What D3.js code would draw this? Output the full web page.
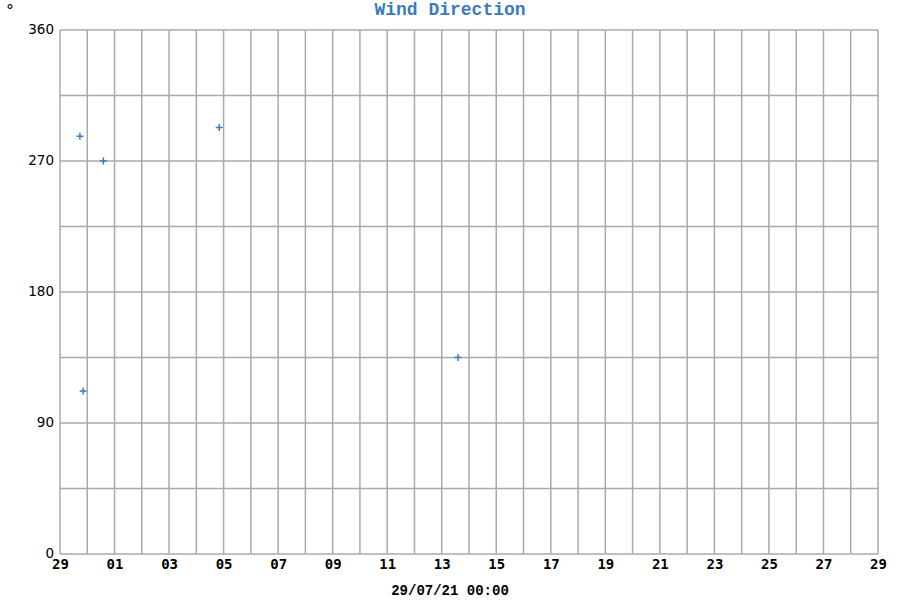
<!DOCTYPE html>
<html>
<head>
<meta charset="utf-8">
<script src="https://cdn.jsdelivr.net/npm/d3@7"></script>
<style>
  body { margin: 0; background: #fff; }
  svg { display: block; }
</style>
</head>
<body>
<div id="chart"></div>
<script>
// days since start of the axis, and wind direction in degrees
var dayOffsets = [0.73, 0.85, 1.59, 5.84, 14.6];
var directions = [287, 112, 270, 293, 135];
var xTickLabels = ["29", "01", "03", "05", "07", "09", "11", "13", "15", "17", "19", "21", "23", "25", "27", "29"];
var yTickLabels = [0, 90, 180, 270, 360];

var m = {top: 30, right: 22, bottom: 46, left: 60},
    w = 900 - m.left - m.right,
    h = 600 - m.top - m.bottom;

var svg = d3.select("#chart").append("svg")
    .attr("width", 900)
    .attr("height", 600);

var g = svg.append("g")
    .attr("transform", "translate(" + m.left + "," + m.top + ")");

var x = d3.scaleLinear().domain([0, 30]).range([0, w]);
var y = d3.scaleLinear().domain([0, 360]).range([h, 0]);

// grid
g.append("g").selectAll("line")
    .data(d3.range(0, 31))
    .enter().append("line")
    .attr("x1", function(d) { return x(d); })
    .attr("x2", function(d) { return x(d); })
    .attr("y1", 0).attr("y2", h)
    .attr("stroke", "#aaa").attr("stroke-width", 1.5);

g.append("g").selectAll("line")
    .data(d3.range(0, 361, 45))
    .enter().append("line")
    .attr("x1", 0).attr("x2", w)
    .attr("y1", function(d) { return y(d); })
    .attr("y2", function(d) { return y(d); })
    .attr("stroke", "#aaa").attr("stroke-width", 1.5);

// y axis labels
var yAxis = d3.axisLeft(y).tickValues(yTickLabels).tickSize(0).tickPadding(6);
g.append("g").call(yAxis)
    .call(function(a) { a.select(".domain").remove(); })
    .selectAll("text")
    .attr("dy", "0.25em")
    .style("font-family", "DejaVu Sans")
    .style("font-size", "13.5px")
    .style("fill", "#000");

// x axis labels
var xAxis = d3.axisBottom(x)
    .tickValues(d3.range(0, 31, 2))
    .tickFormat(function(d, i) { return xTickLabels[i]; })
    .tickSize(0).tickPadding(5);
g.append("g")
    .attr("transform", "translate(0," + h + ")")
    .call(xAxis)
    .call(function(a) { a.select(".domain").remove(); })
    .selectAll("text")
    .style("font-family", "DejaVu Sans Mono")
    .style("font-weight", "bold")
    .style("font-size", "14px")
    .style("fill", "#000");

// points
var pts = dayOffsets.map(function(d, i) { return {t: d, v: directions[i]}; });
g.selectAll(".pt")
    .data(pts)
    .enter().append("path")
    .attr("class", "pt")
    .attr("d", function(d) {
        var px = x(d.t), py = y(d.v);
        return "M" + (px - 3.5) + "," + py + "H" + (px + 3.5) +
               "M" + px + "," + (py - 3.5) + "V" + (py + 3.5);
    })
    .attr("stroke", "#3b7bbf")
    .attr("stroke-width", 1.5)
    .attr("fill", "none");

// title
svg.append("text")
    .attr("x", 450).attr("y", 15)
    .attr("text-anchor", "middle")
    .style("font-family", "Liberation Mono")
    .style("font-weight", "bold")
    .style("font-size", "18px")
    .style("fill", "#3b7bbf")
    .text("Wind Direction");

// unit
svg.append("text")
    .attr("x", 6).attr("y", 16)
    .style("font-family", "DejaVu Sans")
    .style("font-size", "16px")
    .text("°");

// date label
svg.append("text")
    .attr("x", 450).attr("y", 595)
    .attr("text-anchor", "middle")
    .style("font-family", "Liberation Mono")
    .style("font-weight", "bold")
    .style("font-size", "14px")
    .text("29/07/21 00:00");
</script>
</body>
</html>
